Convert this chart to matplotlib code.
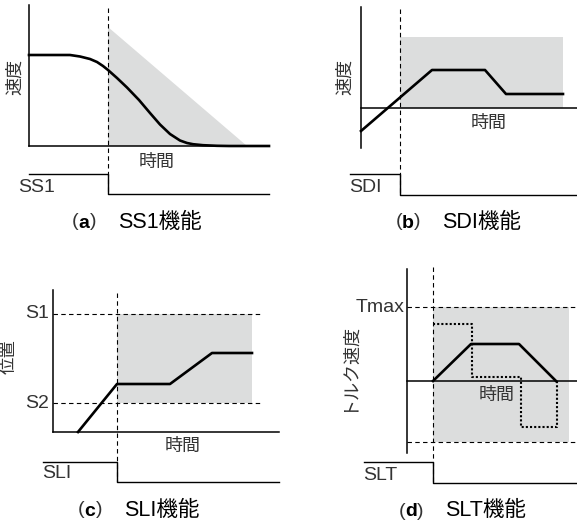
import matplotlib
matplotlib.use("Agg")
import matplotlib.pyplot as plt
from matplotlib.transforms import Affine2D

plt.rcParams['font.family'] = ['Liberation Sans', 'Noto Sans CJK JP', 'DejaVu Sans']

TEXT = "#333333"
GRAY = "#dcdddd"

# values are offsets from each panel's axis origin (time right, value up)

# (a) SS1: speed curve and the falling limit
ss1_t = [0, 41, 51, 61, 68, 74, 79, 88, 98, 110, 121, 131, 141, 151, 158, 164, 174, 188, 200, 240]
ss1_v = [91, 91, 89.5, 87, 84, 80, 76, 68, 58.5, 46, 33, 21.5, 12, 5.5, 3, 1.8, 0.8, 0.2, 0, 0]
ss1_limit_t = [79, 79, 218]
ss1_limit_v = [0, 119, 0]

# (b) SDI: speed and allowed direction band
sdi_t = [0, 71, 124, 145, 202]
sdi_v = [-23, 38, 38, 14, 14]
sdi_band = (39, 202, 0, 71)

# (c) SLI: position between S2 and S1
sli_t = [25, 64, 117, 159, 199]
sli_v = [0, 48, 48, 79, 79]
sli_levels = [118, 29]
sli_level_labels = ["S1", "S2"]
sli_band = (64, 199, 29, 118)

# (d) SLT: speed (solid) and torque (dotted) within +-Tmax
slt_speed_t = [26, 64, 112, 149]
slt_speed_v = [0, 37, 37, 0]
slt_torque_t = [26, 65, 65, 114, 114, 150, 150]
slt_torque_v = [57, 57, 4, 4, -46, -46, 0]
slt_levels = [74, -61]
slt_band = (26, 162, -61, 74)

# safety input signal: start, trigger, end / high, low
signals = {
    "SS1": ((0, 79, 240), (-28, -48)),
    "SDI": ((-11, 39, 216), (-66, -87)),
    "SLI": ((-10, 64, 226), (-30, -50)),
    "SLT": ((-43, 26, 170), (-81, -102)),
}

fig = plt.figure(figsize=(5.77, 5.22), dpi=100)
ax = fig.add_axes([0, 0, 1, 1])
ax.set_xlim(0, 577)
ax.set_ylim(522, 0)
ax.axis("off")


def panel_transform(ox, oy):
    return Affine2D().scale(1, -1).translate(ox, oy) + ax.transData


def draw_axes(tr, v_range, t_end):
    ax.plot([0, 0], v_range, color="black", lw=1.1, transform=tr)
    ax.plot([0, t_end], [0, 0], color="black", lw=1.1, transform=tr)


def draw_signal(tr, name):
    (t0, t1, t2), (hi, lo) = signals[name]
    ax.plot([t0, t1, t1, t2], [hi, hi, lo, lo], color="black", lw=1.0, transform=tr)
    return t1, hi, lo


def dashed(tr, t, v):
    ax.plot(t, v, color="black", lw=0.8, linestyle=(0, (4, 3)), transform=tr)


def label(tr, t, v, s, size=13, **kw):
    kw.setdefault("ha", "center")
    kw.setdefault("va", "center")
    ax.text(t, v, s, fontsize=size, color=TEXT, transform=tr, **kw)


def caption(x, y, letter, name):
    ax.text(x - 9, y, "(", fontsize=14, color=TEXT, ha="center", va="center")
    ax.text(x, y + 1, letter, fontsize=14, color="black", fontweight="bold",
            ha="center", va="center")
    ax.text(x + 9, y, ")", fontsize=14, color=TEXT, ha="center", va="center")
    ax.text(x + 34, y, name + "機能", fontsize=15.5, color="black", ha="left", va="center")


def band(tr, rect):
    t0, t1, v0, v1 = rect
    ax.fill([t0, t1, t1, t0], [v0, v0, v1, v1], color=GRAY, lw=0, transform=tr)


# (a)
tr = panel_transform(29, 146)
ax.fill(ss1_limit_t, ss1_limit_v, color=GRAY, lw=0, transform=tr)
trig, hi, lo = draw_signal(tr, "SS1")
dashed(tr, [trig, trig], [138, lo])
draw_axes(tr, [0, 141], 240)
ax.plot(ss1_t, ss1_v, color="black", lw=1.9, transform=tr, solid_joinstyle="round")
label(tr, 128, -16, "時間")
label(tr, -13, 69, "速度", rotation=90)
label(tr, -11, -42, "SS1", size=14, ha="left")
caption(84, 222, "a", "SS1")

# (b)
tr = panel_transform(361, 108)
band(tr, sdi_band)
trig, hi, lo = draw_signal(tr, "SDI")
dashed(tr, [trig, trig], [99, lo])
draw_axes(tr, [-40, 101], 216)
ax.plot(sdi_t, sdi_v, color="black", lw=1.9, transform=tr)
label(tr, 128, -15, "時間")
label(tr, -15, 31, "速度", rotation=90)
label(tr, -12, -80, "SDI", size=14, ha="left")
caption(408, 222, "b", "SDI")

# (c)
tr = panel_transform(53, 432)
band(tr, sli_band)
for lev, name in zip(sli_levels, sli_level_labels):
    dashed(tr, [0, 210], [lev, lev])
    label(tr, -4, lev, name, size=14, ha="right")
trig, hi, lo = draw_signal(tr, "SLI")
dashed(tr, [trig, trig], [139, lo])
draw_axes(tr, [0, 142], 226)
ax.plot(sli_t, sli_v, color="black", lw=1.9, transform=tr)
label(tr, 130, -14, "時間")
label(tr, -44, 75, "位置", size=12.5, rotation=90)
label(tr, -11, -41, "SLI", size=14, ha="left")
caption(90, 510, "c", "SLI")

# (d)
tr = panel_transform(407, 381)
band(tr, slt_band)
for lev in slt_levels:
    dashed(tr, [0, 170], [lev, lev])
label(tr, -2, slt_levels[0], "Tmax", size=14, ha="right")
trig, hi, lo = draw_signal(tr, "SLT")
dashed(tr, [trig, trig], [114, lo])
draw_axes(tr, [-72, 112], 170)
ax.plot(slt_torque_t, slt_torque_v, color="black", lw=1.5, linestyle=(0, (1, 1)),
        dash_capstyle="butt", transform=tr)
ax.plot(slt_speed_t, slt_speed_v, color="black", lw=1.9, transform=tr)
label(tr, 90, -14, "時間")
label(tr, -59, 14, "トルク速度", rotation=90)
label(tr, -44, -95, "SLT", size=14, ha="left")
caption(411, 511, "d", "SLT")

fig.savefig("out.png", dpi=100)
